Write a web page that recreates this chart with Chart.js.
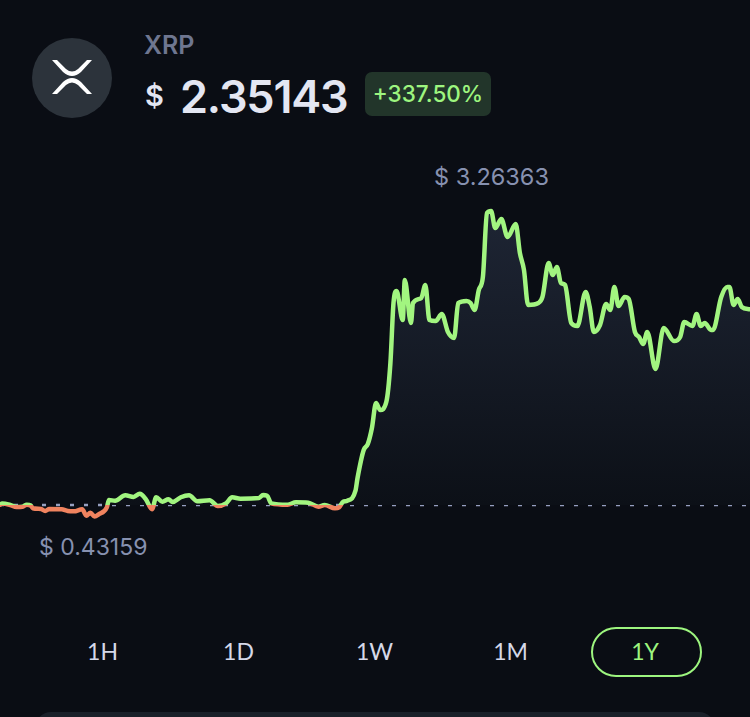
<!DOCTYPE html>
<html>
<head>
<meta charset="utf-8">
<title>XRP</title>
<script src="https://cdn.jsdelivr.net/npm/chart.js@4/dist/chart.umd.min.js"></script>
<style>
  html, body { margin: 0; padding: 0; }
  body { width: 750px; height: 717px; background: #0a0d14; overflow: hidden; position: relative; font-family: Inter, Lato, sans-serif; }
  #chart { position: absolute; left: 0; top: 150px; }
  .abs { position: absolute; white-space: nowrap; line-height: 1; }
  .icon { position: absolute; left: 32px; top: 38px; }
  #name { left: 144px; top: 33px; font-size: 25px; font-weight: 600; color: #6e7690; }
  #dollar { left: 145px; top: 81px; font-size: 29px; font-weight: 600; color: #e3e6f2; }
  #price { left: 180px; top: 74px; font-size: 45px; font-weight: 600; letter-spacing: -1.2px; color: #e3e6f2; }
  #change { left: 365px; top: 72px; width: 126px; height: 44px; line-height: 43px; text-align: center; background: #22352a; border-radius: 7px; font-size: 22.5px; font-weight: 500; color: #9df57f; }
  #high { left: 434px; top: 165px; font-size: 23.5px; color: #8791b0; }
  #low { left: 39px; top: 536px; font-size: 23px; color: #8791b0; }
  .range { position: absolute; top: 626px; height: 50px; line-height: 50px; width: 111px; text-align: center; font-family: Lato, sans-serif; font-size: 23px; font-weight: 400; color: #d5d8e8; box-sizing: border-box; }
  .range.active { top: 627px; color: #9df57f; border: 2px solid #9df57f; border-radius: 25px; line-height: 44px; padding-right: 3px; }
  #card { position: absolute; left: 35px; top: 712px; width: 680px; height: 40px; background: #1a2029; border-radius: 16px; }
</style>
</head>
<body>
<svg class="icon" width="80" height="80" viewBox="0 0 80 80">
  <circle cx="40" cy="40" r="40" fill="#2c333b"/>
  <path d="M20 22 L25 22 L34 31 Q40 36 46 31 L55 22 L60 22 L49 34 Q40 42 31 34 Z" fill="#fff"/>
  <path d="M20 56 L25 56 L34 47 Q40 42 46 47 L55 56 L60 56 L49 44 Q40 36 31 44 Z" fill="#fff"/>
</svg>
<div class="abs" id="name">XRP</div>
<div class="abs" id="dollar">$</div>
<div class="abs" id="price">2.35143</div>
<div class="abs" id="change">+337.50%</div>
<div class="abs" id="high">$ 3.26363</div>
<div class="abs" id="low">$ 0.43159</div>
<canvas id="chart" width="750" height="420"></canvas>
<div id="ranges"></div>
<div id="card"></div>
<script>
var days = [0, 1, 5, 8, 11, 13, 15, 16, 20, 22, 24, 30, 33, 36, 40, 42, 44, 46, 48, 52, 53, 56, 61, 65, 68, 71, 74, 76, 79, 82, 84, 88, 92,
  96, 102, 106, 110, 113, 117, 126, 128, 130, 132, 140, 144, 150, 155, 158, 163, 165, 167, 169, 173, 174, 177, 179, 181, 183, 185, 188,
  190, 191.5, 193, 196, 197, 200, 201, 205, 207, 209, 212, 215, 218, 221, 223, 227, 229, 231, 233, 235, 237, 239, 241, 244, 247, 251,
  253, 255, 257, 262, 264, 267, 269, 271, 273, 275, 278, 281, 285, 287, 289, 292, 295, 297, 299, 301, 304, 306, 309, 311, 313, 315,
  319, 323, 328, 331, 333, 337, 339, 341, 343, 346, 347, 351, 354, 355, 357, 359, 361, 365];

var prices = [0.54, 0.551, 0.5375, 0.519, 0.522, 0.54, 0.531, 0.507, 0.5, 0.482, 0.5, 0.498, 0.482, 0.479, 0.498, 0.438, 0.466, 0.43159, 0.451, 0.516, 0.584, 0.577, 0.627, 0.612, 0.642, 0.59, 0.498, 0.609, 0.568, 0.59, 0.565, 0.609, 0.627,
  0.572, 0.581, 0.528, 0.553, 0.609, 0.596, 0.602, 0.63, 0.624, 0.553, 0.54, 0.563, 0.559, 0.522, 0.5375, 0.507, 0.516, 0.568, 0.577, 0.67, 0.788, 1.047, 1.103, 1.251, 1.483, 1.418, 1.492,
  1.854, 2.41, 2.521, 2.252, 2.623, 2.225, 2.41, 2.456, 2.577, 2.252, 2.243, 2.308, 2.141, 2.086, 2.41, 2.429, 2.41, 2.345, 2.53, 2.651, 3.244, 3.26363, 3.105, 3.189, 3.022, 3.142,
  2.874, 2.716, 2.392, 2.41, 2.466, 2.781, 2.67, 2.744, 2.596, 2.577, 2.225, 2.197, 2.512, 2.373, 2.141, 2.206, 2.401, 2.345, 2.558, 2.382, 2.466, 2.447, 2.141, 2.095, 2.03, 2.141,
  1.798, 2.178, 2.058, 2.095, 2.234, 2.197, 2.308, 2.197, 2.225, 2.16, 2.16, 2.466, 2.558, 2.558, 2.392, 2.447, 2.373, 2.35143];

var openPrice = 0.5375;
var rangeLabels = ["1H", "1D", "1W", "1M", "1Y"];
var rangeLefts = [47, 183, 319, 455, 591];
var activeRange = "1Y";

// time range buttons
var holder = document.getElementById("ranges");
for (var i = 0; i < rangeLabels.length; i++) {
  var btn = document.createElement("div");
  btn.className = "range" + (rangeLabels[i] == activeRange ? " active" : "");
  btn.style.left = rangeLefts[i] + "px";
  btn.textContent = rangeLabels[i];
  holder.appendChild(btn);
}

var points = [];
for (var i = 0; i < days.length; i++) {
  points.push({ x: days[i], y: prices[i] });
}

// hard colour stop at the opening price: green above, orange below
function lineColor(context) {
  var chart = context.chart;
  if (!chart.chartArea) return "#a2f580";
  var base = chart.scales.y.getPixelForValue(openPrice);
  var h = chart.height;
  var g = chart.ctx.createLinearGradient(0, 0, 0, h);
  g.addColorStop(0, "#a2f580");
  g.addColorStop(base / h, "#a2f580");
  g.addColorStop(base / h, "#f0835f");
  g.addColorStop(1, "#f0835f");
  return g;
}

function areaColor(context) {
  var chart = context.chart;
  if (!chart.chartArea) return "transparent";
  var top = chart.scales.y.getPixelForValue(3.26363);
  var base = chart.scales.y.getPixelForValue(openPrice);
  var g = chart.ctx.createLinearGradient(0, top, 0, base);
  g.addColorStop(0, "#1e2534");
  g.addColorStop(1, "#0c1017");
  return g;
}

new Chart(document.getElementById("chart").getContext("2d"), {
  type: "line",
  data: {
    datasets: [
      {
        data: points,
        borderColor: lineColor,
        borderWidth: 4.5,
        borderJoinStyle: "round",
        borderCapStyle: "round",
        cubicInterpolationMode: "monotone",
        pointRadius: 0,
        fill: { value: openPrice, above: areaColor, below: "transparent" },
        order: 1
      },
      {
        data: [{ x: 0, y: openPrice }, { x: 365, y: openPrice }],
        borderColor: "#969fc0",
        borderWidth: 2.5,
        borderDash: [4, 10],
        pointRadius: 0,
        fill: false,
        order: 2
      }
    ]
  },
  options: {
    responsive: false,
    animation: false,
    events: [],
    layout: { padding: 0 },
    plugins: { legend: { display: false }, tooltip: { enabled: false } },
    scales: {
      x: { type: "linear", min: 0, max: 365, display: false },
      y: { min: -0.0651, max: 3.8284, display: false }
    }
  }
});
</script>
</body>
</html>
